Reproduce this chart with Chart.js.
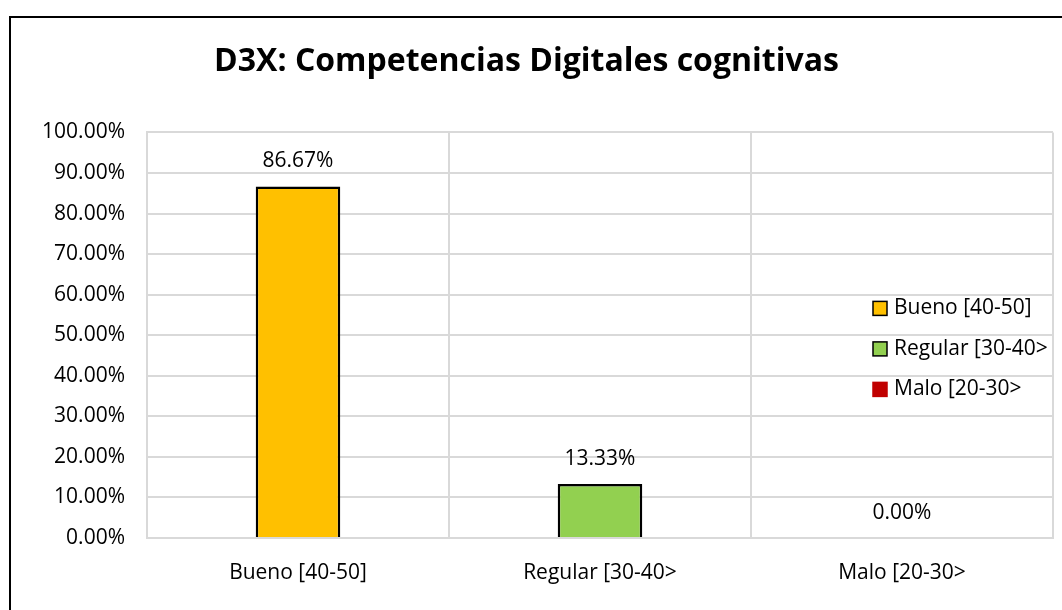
<!DOCTYPE html>
<html>
<head>
<meta charset="utf-8">
<script src="https://cdn.jsdelivr.net/npm/chart.js@4/dist/chart.umd.min.js"></script>
<style>
  html, body { margin: 0; padding: 0; background: #fff; }
  #wrap { position: relative; width: 1062px; height: 610px; overflow: hidden; }
</style>
</head>
<body>
<div id="wrap"><canvas id="d3xChart" width="1062" height="610"></canvas></div>
<script>
const categorias = ["Bueno [40-50]", "Regular [30-40>", "Malo [20-30>"];
const porcentajes = [86.67, 13.33, 0.00];
const colores = ["#FFC000", "#92D050", "#C00000"];
const bordes = ["#000000", "#000000", "#C00000"];
const ticksY = [0, 10, 20, 30, 40, 50, 60, 70, 80, 90, 100];

const fuente = "'Open Sans', Lato, sans-serif";
const tamTexto = 21;

// marco negro alrededor del grafico
const marco = {
    id: "marco",
    beforeDraw(chart) {
        const ctx = chart.ctx;
        ctx.save();
        ctx.fillStyle = "#fff";
        ctx.fillRect(0, 0, chart.width, chart.height);
        ctx.strokeStyle = "#000";
        ctx.lineWidth = 2;
        ctx.strokeRect(10, 17, chart.width + 40, chart.height + 40);
        ctx.restore();
    }
};

// etiquetas de datos sobre cada barra
const etiquetas = {
    id: "etiquetas",
    afterDatasetsDraw(chart) {
        const ctx = chart.ctx;
        const meta = chart.getDatasetMeta(0);
        ctx.save();
        ctx.font = tamTexto + "px " + fuente;
        ctx.fillStyle = "#000";
        ctx.textAlign = "center";
        ctx.textBaseline = "middle";
        meta.data.forEach((bar, i) => {
            const v = chart.data.datasets[0].data[i];
            ctx.fillText(v.toFixed(2) + "%", bar.x, bar.y - 25);
        });
        ctx.restore();
    }
};

// leyenda dentro del area del grafico, a la derecha
const leyenda = {
    id: "leyenda",
    afterDraw(chart) {
        const ctx = chart.ctx;
        const area = chart.chartArea;
        const ds = chart.data.datasets[0];
        const x0 = area.right - 180;
        const y0 = area.top + 176;
        ctx.save();
        ctx.font = tamTexto + "px " + fuente;
        ctx.textBaseline = "middle";
        chart.data.labels.forEach((lab, i) => {
            const y = y0 + i * 40.5;
            ctx.fillStyle = ds.backgroundColor[i];
            ctx.fillRect(x0, y - 7, 14, 14);
            ctx.strokeStyle = ds.borderColor[i];
            ctx.lineWidth = 1.5;
            ctx.strokeRect(x0, y - 7, 14, 14);
            ctx.fillStyle = "#000";
            ctx.fillText(lab, x0 + 21, y);
        });
        ctx.restore();
    }
};

const ctx = document.getElementById("d3xChart").getContext("2d");
const grafico = new Chart(ctx, {
    type: "bar",
    data: {
        labels: categorias,
        datasets: [{
            data: porcentajes,
            backgroundColor: colores,
            borderColor: bordes,
            borderWidth: 2.5,
            borderSkipped: "bottom",
            categoryPercentage: 1,
            barPercentage: 0.28
        }]
    },
    plugins: [marco, etiquetas, leyenda],
    options: {
        responsive: false,
        animation: false,
        devicePixelRatio: 1,
        layout: { padding: { left: 0, right: 9, top: 0, bottom: 0 } },
        plugins: {
            legend: { display: false },
            tooltip: { enabled: false },
            title: {
                display: true,
                text: "D3X: Competencias Digitales cognitivas",
                color: "#000",
                font: { family: fuente, size: 32, weight: "bold", lineHeight: 1.2 },
                padding: { top: 43, bottom: 51 }
            }
        },
        scales: {
            x: {
                grid: { color: "#d9d9d9", lineWidth: 2, offset: true, drawTicks: false },
                border: { color: "#d9d9d9", width: 2 },
                ticks: { color: "#000", font: { family: fuente, size: tamTexto }, padding: 22 },
                afterFit(scale) { scale.height = 72; }
            },
            y: {
                min: 0,
                max: 100,
                afterBuildTicks(scale) { scale.ticks = ticksY.map(v => ({ value: v })); },
                grid: { color: "#d9d9d9", lineWidth: 2, drawTicks: false },
                border: { color: "#d9d9d9", width: 2 },
                ticks: {
                    color: "#000",
                    font: { family: fuente, size: tamTexto },
                    padding: 22,
                    callback: v => v.toFixed(2) + "%"
                },
                afterFit(scale) { scale.width = 147; }
            }
        }
    }
});
</script>
</body>
</html>
